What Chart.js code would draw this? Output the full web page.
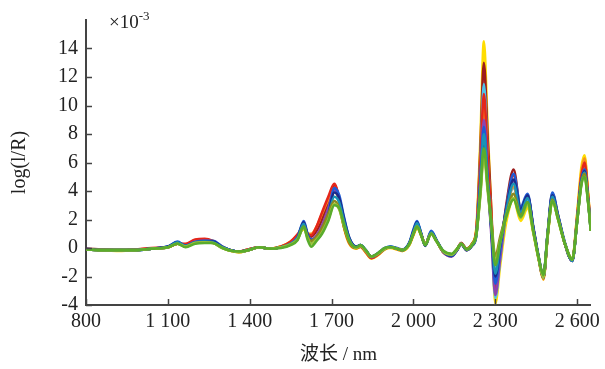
<!DOCTYPE html>
<html>
<head>
<meta charset="utf-8">
<script src="https://cdn.jsdelivr.net/npm/chart.js@4/dist/chart.umd.min.js"></script>
<style>
  html, body { margin: 0; padding: 0; background: #fff; }
  #wrap { width: 605px; height: 369px; }
</style>
</head>
<body>
<div id="wrap"><canvas id="spectra" width="605" height="369"></canvas></div>
<script>
// wavelength grid (nm) shared by every sample
const wavelengths = [
  800, 860, 920, 980, 1040, 1100, 1135, 1165, 1200, 1235, 1265, 1300, 1330, 1360, 1395, 1435, 1475, 1515, 1550, 1575,
  1598, 1612, 1625, 1645, 1665, 1688, 1710, 1728, 1745, 1765, 1790,
  1806, 1825, 1846, 1870, 1895, 1915, 1940, 1960, 1985, 2000, 2013, 2028, 2043, 2065, 2085, 2110, 2140, 2160, 2175, 2195, 2215, 2230,
  2245, 2258, 2272, 2285, 2300, 2318, 2340, 2367, 2393, 2418, 2440, 2460, 2476, 2492, 2509, 2530, 2555, 2582, 2600, 2615, 2627, 2640, 2650
];

// log(1/R) values, x10^-3, one array per sample
const sampleYellow = [
  -0.1, -0.15, -0.2, -0.15, -0.05, 0.05, 0.3, 0.2, 0.5, 0.55, 0.45, 0.05, -0.2, -0.3, -0.15, 0.05, -0.05, 0.1, 0.45, 0.9,
  1.3, 1.0, 0.9, 1.4, 2.3, 3.3, 4.1, 3.2, 1.5, 0.3, -0.05,
  0.1, -0.3, -0.75, -0.5, -0.1, 0.0, -0.1, -0.2, 0.2, 0.9, 1.4, 0.9, 0.3, 1.0, 0.5, -0.3, -0.45, -0.05, 0.3, -0.15, 0.3, 1.3,
  7.5, 14.5, 8.4, 2.7, -3.9, -1.2, 1.8, 3.4, 1.9, 2.8, 1.0, -0.9, -2.2, 0.8, 3.3, 2.0, 0.3, -0.8, 2.4, 5.6, 6.5, 3.8, 1.5
];
const sampleDarkRed = [
  -0.05, -0.1, -0.15, -0.1, -0.05, 0.05, 0.3, 0.25, 0.55, 0.6, 0.45, 0.05, -0.15, -0.25, -0.1, 0.05, -0.05, 0.05, 0.35, 0.8,
  1.6, 1.0, 0.8, 1.2, 2.0, 3.2, 4.4, 3.5, 1.8, 0.5, 0.05,
  0.15, -0.25, -0.7, -0.45, -0.05, 0.05, -0.05, -0.15, 0.3, 1.0, 1.6, 1.0, 0.2, 1.1, 0.5, -0.3, -0.55, -0.1, 0.35, -0.1, 0.25, 1.1,
  6.8, 13.0, 7.7, 2.8, -3.0, -0.4, 3.0, 5.5, 2.8, 3.7, 1.3, -0.8, -2.1, 1.0, 3.8, 2.3, 0.3, -0.9, 2.1, 5.0, 6.0, 3.6, 1.3
];
const sampleCyan = [
  -0.1, -0.15, -0.15, -0.15, -0.05, 0.1, 0.4, 0.15, 0.4, 0.45, 0.4, 0.05, -0.15, -0.25, -0.15, 0.05, -0.05, 0.05, 0.3, 0.7,
  1.7, 0.9, 0.5, 0.7, 1.3, 2.5, 4.0, 3.4, 1.9, 0.6, 0.05,
  0.2, -0.15, -0.6, -0.4, -0.05, 0.1, -0.05, -0.15, 0.35, 1.2, 1.8, 1.0, 0.2, 1.1, 0.5, -0.25, -0.5, -0.1, 0.3, -0.1, 0.2, 0.9,
  6.0, 11.5, 6.5, 1.8, -3.5, -0.8, 2.5, 4.2, 2.4, 3.3, 1.2, -0.8, -2.1, 1.0, 3.6, 2.2, 0.3, -0.9, 2.0, 4.8, 5.6, 3.5, 1.3
];
const sampleRed = [
  -0.1, -0.1, -0.15, -0.1, 0.0, 0.05, 0.3, 0.3, 0.6, 0.65, 0.5, 0.1, -0.15, -0.25, -0.1, 0.05, -0.05, 0.1, 0.45, 0.95,
  1.5, 1.0, 0.9, 1.5, 2.5, 3.6, 4.5, 3.4, 1.6, 0.4, 0.0,
  0.1, -0.25, -0.7, -0.45, -0.05, 0.05, -0.05, -0.15, 0.3, 1.0, 1.6, 0.95, 0.25, 1.1, 0.5, -0.3, -0.55, -0.1, 0.35, -0.05, 0.3, 1.1,
  5.8, 10.8, 6.4, 2.2, -2.8, -0.2, 2.8, 5.1, 2.6, 3.6, 1.3, -0.8, -2.1, 1.0, 3.7, 2.2, 0.3, -0.9, 2.1, 5.0, 6.0, 3.6, 1.4
];
const sampleOrange = [
  -0.1, -0.15, -0.15, -0.15, -0.05, 0.05, 0.3, 0.25, 0.55, 0.6, 0.5, 0.05, -0.2, -0.3, -0.15, 0.05, -0.05, 0.1, 0.4, 0.9,
  1.4, 1.0, 1.0, 1.5, 2.4, 3.4, 4.2, 3.2, 1.5, 0.3, 0.0,
  0.1, -0.3, -0.7, -0.45, -0.1, 0.05, -0.1, -0.2, 0.25, 0.95, 1.5, 0.9, 0.25, 1.0, 0.5, -0.3, -0.5, -0.1, 0.3, -0.1, 0.3, 1.2,
  5.4, 10.0, 6.0, 2.2, -2.3, 0.0, 2.5, 4.3, 2.2, 3.2, 1.1, -0.9, -2.2, 0.9, 3.5, 2.1, 0.3, -0.8, 2.3, 5.3, 6.3, 3.8, 1.5
];
const samplePurple = [
  -0.1, -0.15, -0.15, -0.15, -0.05, 0.05, 0.35, 0.15, 0.45, 0.5, 0.4, 0.05, -0.15, -0.25, -0.15, 0.05, -0.05, 0.05, 0.3, 0.75,
  1.6, 0.9, 0.6, 0.9, 1.6, 2.8, 4.1, 3.4, 1.8, 0.5, 0.05,
  0.15, -0.2, -0.65, -0.4, -0.05, 0.07, -0.05, -0.15, 0.3, 1.1, 1.7, 1.0, 0.2, 1.1, 0.5, -0.3, -0.6, -0.15, 0.25, -0.15, 0.2, 1.0,
  4.8, 9.0, 4.9, 1.0, -3.3, -0.7, 2.5, 4.7, 2.6, 3.6, 1.3, -0.8, -2.1, 1.0, 3.6, 2.2, 0.3, -0.9, 2.0, 4.7, 5.5, 3.4, 1.3
];
const sampleBlue = [
  -0.1, -0.15, -0.15, -0.15, -0.05, 0.1, 0.45, 0.15, 0.4, 0.5, 0.5, 0.1, -0.15, -0.25, -0.15, 0.05, -0.05, 0.05, 0.3, 0.75,
  1.9, 1.0, 0.6, 0.7, 1.2, 2.4, 4.2, 3.7, 2.2, 0.7, 0.1,
  0.2, -0.15, -0.6, -0.35, 0.0, 0.1, 0.0, -0.1, 0.4, 1.3, 1.9, 1.05, 0.2, 1.2, 0.55, -0.25, -0.55, -0.15, 0.3, -0.15, 0.2, 0.9,
  4.6, 8.5, 4.8, 1.5, -2.5, -0.1, 2.8, 5.2, 2.9, 3.8, 1.4, -0.7, -2.0, 1.1, 3.9, 2.3, 0.4, -0.9, 2.0, 4.7, 5.5, 3.4, 1.3
];
const sampleNavy = [
  -0.05, -0.15, -0.15, -0.15, -0.05, 0.1, 0.4, 0.15, 0.4, 0.45, 0.45, 0.05, -0.15, -0.25, -0.15, 0.05, -0.05, 0.05, 0.25, 0.7,
  1.8, 0.9, 0.5, 0.6, 1.1, 2.3, 3.9, 3.5, 2.1, 0.7, 0.1,
  0.2, -0.15, -0.6, -0.4, -0.05, 0.07, -0.05, -0.15, 0.35, 1.2, 1.8, 1.0, 0.15, 1.1, 0.5, -0.25, -0.55, -0.15, 0.25, -0.15, 0.15, 0.8,
  4.2, 7.6, 4.4, 1.4, -2.0, 0.2, 2.7, 4.8, 2.7, 3.7, 1.3, -0.8, -2.1, 1.0, 3.7, 2.2, 0.3, -0.9, 1.9, 4.6, 5.4, 3.3, 1.2
];
const sampleTeal = [
  -0.1, -0.15, -0.15, -0.15, -0.05, 0.05, 0.4, 0.15, 0.4, 0.45, 0.4, 0.05, -0.15, -0.25, -0.15, 0.05, -0.05, 0.05, 0.3, 0.7,
  1.7, 0.8, 0.4, 0.6, 1.1, 2.2, 3.6, 3.2, 1.9, 0.6, 0.05,
  0.2, -0.15, -0.6, -0.4, -0.05, 0.07, -0.05, -0.15, 0.3, 1.1, 1.75, 1.0, 0.2, 1.1, 0.5, -0.25, -0.5, -0.1, 0.3, -0.1, 0.2, 0.85,
  4.4, 8.0, 4.7, 1.7, -1.8, 0.3, 2.6, 4.5, 2.5, 3.5, 1.2, -0.8, -2.0, 1.0, 3.6, 2.2, 0.3, -0.9, 1.9, 4.6, 5.3, 3.3, 1.2
];
const sampleOlive = [
  -0.1, -0.15, -0.15, -0.15, -0.05, 0.05, 0.3, 0.1, 0.35, 0.4, 0.35, 0.0, -0.2, -0.25, -0.15, 0.05, -0.05, 0.05, 0.25, 0.6,
  1.5, 0.8, 0.5, 0.8, 1.4, 2.4, 3.3, 2.8, 1.5, 0.4, 0.0,
  0.15, -0.2, -0.6, -0.4, -0.05, 0.05, -0.05, -0.15, 0.25, 1.0, 1.5, 0.95, 0.3, 1.0, 0.45, -0.25, -0.45, -0.1, 0.3, -0.05, 0.3, 1.0,
  3.8, 6.8, 4.3, 2.0, -0.6, 0.8, 2.3, 3.8, 2.3, 3.2, 1.1, -0.8, -2.0, 0.9, 3.4, 2.1, 0.3, -0.8, 1.9, 4.5, 5.2, 3.3, 1.2
];
const sampleLime = [
  -0.1, -0.15, -0.15, -0.15, -0.05, 0.05, 0.3, 0.1, 0.35, 0.4, 0.35, 0.0, -0.2, -0.3, -0.15, 0.05, -0.05, 0.05, 0.25, 0.6,
  1.4, 0.7, 0.3, 0.6, 1.1, 2.0, 3.1, 2.7, 1.6, 0.5, 0.0,
  0.15, -0.2, -0.6, -0.4, -0.05, 0.05, -0.05, -0.15, 0.25, 1.0, 1.5, 0.9, 0.25, 1.0, 0.45, -0.25, -0.45, -0.1, 0.3, -0.1, 0.25, 0.9,
  3.6, 6.5, 4.0, 1.7, -1.0, 0.5, 2.2, 3.5, 2.1, 3.0, 1.0, -0.9, -2.1, 0.9, 3.3, 2.0, 0.3, -0.8, 1.9, 4.4, 5.0, 3.2, 1.2
];
const sampleGreen = [
  -0.1, -0.15, -0.15, -0.15, -0.05, 0.05, 0.3, 0.05, 0.3, 0.35, 0.35, 0.0, -0.2, -0.25, -0.15, 0.05, -0.05, 0.0, 0.2, 0.55,
  1.5, 0.6, 0.1, 0.5, 1.0, 1.9, 3.0, 2.8, 1.7, 0.5, 0.05,
  0.2, -0.15, -0.6, -0.35, 0.0, 0.07, -0.05, -0.15, 0.3, 1.0, 1.5, 0.9, 0.2, 1.0, 0.45, -0.2, -0.4, -0.05, 0.3, -0.1, 0.2, 0.9,
  3.9, 7.0, 4.3, 1.8, -1.2, 0.4, 2.2, 3.4, 2.2, 3.2, 1.1, -0.8, -1.9, 1.0, 3.3, 2.0, 0.3, -0.8, 1.9, 4.4, 5.0, 3.2, 1.2
];

// first entry is drawn on top
const samples = [sampleGreen, sampleLime, sampleOlive, sampleTeal, sampleNavy, sampleBlue,
                 samplePurple, sampleRed, sampleOrange, sampleCyan, sampleDarkRed, sampleYellow];
const sampleColors = ['#5aac2c', '#a6c43a', '#8a8a1e', '#1a93b5', '#1b2a8a', '#1f5bd6',
                      '#8e44ad', '#e5261a', '#f7941d', '#4fc3e8', '#9c1c1c', '#ffdd00'];

const xTicks = [800, 1100, 1400, 1700, 2000, 2300, 2600];
const yTicks = [-4, -2, 0, 2, 4, 6, 8, 10, 12, 14];

const serif = "'Liberation Serif', 'Times New Roman', serif";
const axisColor = '#444';

function fmtNm(v) {
  if (v < 1000) return String(v);
  return Math.floor(v / 1000) + ' ' + String(v % 1000).padStart(3, '0');
}

// inward tick marks and the x10^-3 note
const decor = {
  id: 'decor',
  afterDraw(chart) {
    const ctx = chart.ctx;
    const xs = chart.scales.x, ys = chart.scales.y;
    const area = chart.chartArea;
    ctx.save();
    ctx.strokeStyle = axisColor;
    ctx.lineWidth = 1.5;
    ctx.beginPath();
    xTicks.forEach(v => {
      const px = Math.round(xs.getPixelForValue(v)) + 0.5;
      ctx.moveTo(px, area.bottom);
      ctx.lineTo(px, area.bottom - 6);
    });
    yTicks.forEach(v => {
      const py = Math.round(ys.getPixelForValue(v)) + 0.5;
      ctx.moveTo(area.left, py);
      ctx.lineTo(area.left + 6, py);
    });
    ctx.stroke();

    ctx.fillStyle = '#222';
    ctx.textBaseline = 'alphabetic';
    ctx.font = '19px ' + serif;
    ctx.fillText('\u00d710', 109, 28);
    const w = ctx.measureText('\u00d710').width;
    ctx.font = '13px ' + serif;
    ctx.fillText('-3', 109 + w, 20);
    ctx.restore();
  }
};

new Chart(document.getElementById('spectra'), {
  type: 'line',
  data: {
    datasets: samples.map((s, i) => ({
      data: s.map((y, j) => ({ x: wavelengths[j], y: y })),
      borderColor: sampleColors[i],
      borderWidth: 2.6,
      pointRadius: 0,
      fill: false,
      cubicInterpolationMode: 'monotone'
    }))
  },
  options: {
    responsive: false,
    animation: false,
    layout: { padding: { top: 15, right: 12, left: 0, bottom: 0 } },
    plugins: { legend: { display: false }, tooltip: { enabled: false } },
    scales: {
      x: {
        type: 'linear',
        min: 800,
        max: 2650,
        afterFit(scale) { scale.height = 64; },
        afterBuildTicks(scale) { scale.ticks = xTicks.map(v => ({ value: v })); },
        grid: { display: true, drawOnChartArea: false, drawTicks: false },
        border: { display: true, color: axisColor, width: 2 },
        ticks: {
          padding: 5,
          color: '#222',
          font: { family: serif, size: 20 },
          maxRotation: 0,
          callback: v => fmtNm(v)
        },
        title: {
          display: true,
          text: '波长 / nm',
          color: '#222',
          font: { family: "'Liberation Serif', 'Noto Sans CJK SC', serif", size: 19 },
          padding: { top: 0, bottom: 3 }
        }
      },
      y: {
        type: 'linear',
        min: -4,
        max: 16,
        afterFit(scale) { scale.width = 86; },
        afterBuildTicks(scale) { scale.ticks = yTicks.map(v => ({ value: v })); },
        grid: { display: true, drawOnChartArea: false, drawTicks: false },
        border: { display: true, color: axisColor, width: 2 },
        ticks: {
          padding: 8,
          color: '#222',
          font: { family: serif, size: 20 },
          callback: v => String(v)
        },
        title: {
          display: true,
          text: 'log(l/R)',
          color: '#222',
          font: { family: serif, size: 20 },
          padding: { top: 8, bottom: 0 }
        }
      }
    }
  },
  plugins: [decor]
});
</script>
</body>
</html>
